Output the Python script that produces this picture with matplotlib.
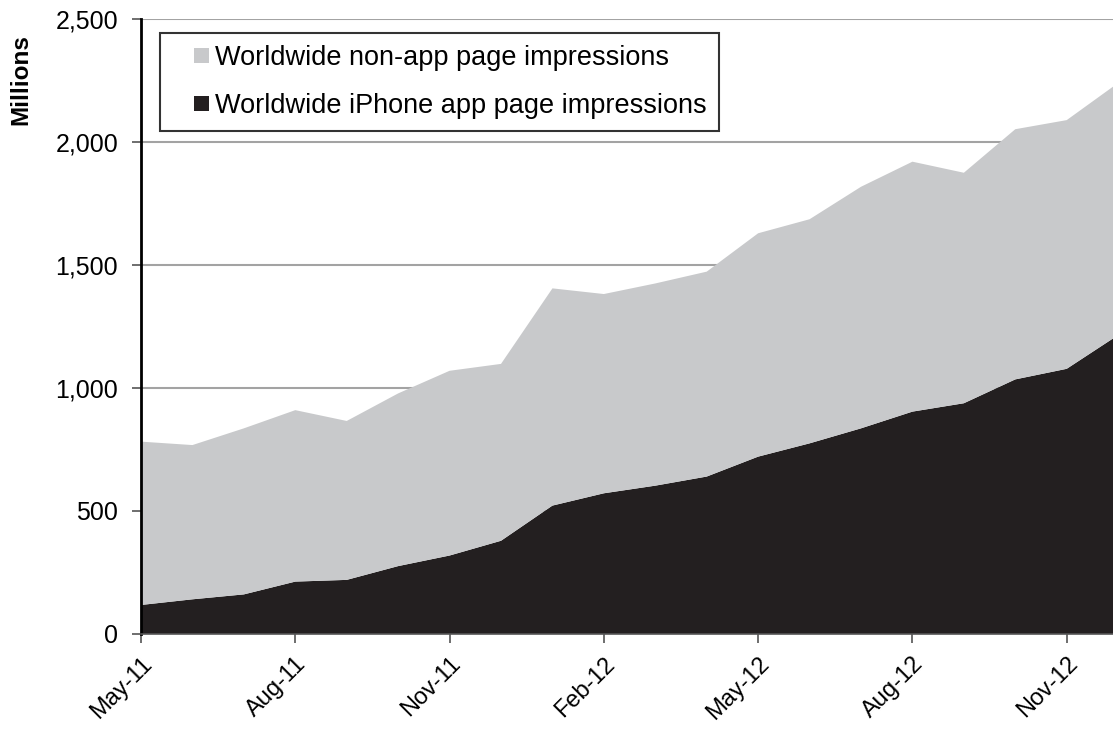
import numpy as np
import matplotlib
matplotlib.use("Agg")
import matplotlib.pyplot as plt
from matplotlib.patches import Patch, Rectangle
from matplotlib.legend_handler import HandlerPatch
from matplotlib.ticker import FuncFormatter

plt.rcParams['font.family'] = ['Liberation Sans', 'DejaVu Sans']

# monthly data, May-11 .. Dec-12 (millions)
months = ['May-11', 'Jun-11', 'Jul-11', 'Aug-11', 'Sep-11', 'Oct-11', 'Nov-11',
          'Dec-11', 'Jan-12', 'Feb-12', 'Mar-12', 'Apr-12', 'May-12', 'Jun-12',
          'Jul-12', 'Aug-12', 'Sep-12', 'Oct-12', 'Nov-12', 'Dec-12']
iphone_app = [118, 141, 161, 213, 220, 276, 319, 379, 522, 572,
              603, 640, 721, 775, 836, 904, 938, 1035, 1078, 1215]
total = [782, 768, 836, 910, 866, 978, 1070, 1098, 1405, 1382,
         1425, 1473, 1629, 1686, 1818, 1920, 1875, 2052, 2089, 2240]
non_app = [t - a for t, a in zip(total, iphone_app)]

tick_months = ['May-11', 'Aug-11', 'Nov-11', 'Feb-12', 'May-12', 'Aug-12', 'Nov-12']

light = '#c8c9cb'
dark = '#231f20'


# small square marker sitting at the right end of the legend handle box
def square(legend, orig_handle, xdescent, ydescent, width, height, fontsize):
    s = 0.55 * fontsize
    return Rectangle((-xdescent + width - s, -ydescent + (height - s) / 2), s, s)


fig = plt.figure(figsize=(11.13, 7.31), dpi=100)
ax = fig.add_axes([0.1267, 0.1327, 0.8733, 0.8413])

x = np.arange(len(months))
ax.stackplot(x, iphone_app, non_app, colors=[dark, light], linewidth=0, zorder=2)

ax.set_ylim(0, 2500)
ax.set_yticks(range(0, 2501, 500))
ax.yaxis.set_major_formatter(FuncFormatter(lambda v, p: f'{int(v):,}'))
ax.grid(axis='y', color='#a3a3a3', linewidth=1.5, zorder=1)
ax.set_axisbelow(True)

ax.set_xlim(0, 18.9)
ticks = [months.index(m) for m in tick_months]
ax.set_xticks(ticks)
ax.set_xticklabels(tick_months, rotation=45, ha='right', rotation_mode='anchor')

for s in ['top', 'right']:
    ax.spines[s].set_visible(False)
ax.spines['left'].set_color('black')
ax.spines['left'].set_linewidth(2)
ax.spines['bottom'].set_color('#555555')
ax.spines['bottom'].set_linewidth(1.2)
ax.tick_params(axis='both', length=6.5, width=1.2, color='#555555')
ax.tick_params(axis='y', labelsize=18, pad=10)
ax.tick_params(axis='x', labelsize=17, pad=7)

ax.set_ylabel('Millions', fontsize=17.5, fontweight='bold')
ax.yaxis.set_label_coords(-0.112, 0.902)

handles = [Patch(facecolor=light, edgecolor='none', label='Worldwide non-app page impressions'),
           Patch(facecolor=dark, edgecolor='none', label='Worldwide iPhone app page impressions')]
leg = ax.legend(handles=handles, loc='upper left', bbox_to_anchor=(0.0195, 0.977),
                fontsize=19.5, frameon=True, fancybox=False, handlelength=1.35,
                handleheight=0.7, handletextpad=0.25, borderpad=0.45,
                labelspacing=0.8, borderaxespad=0,
                handler_map={Patch: HandlerPatch(patch_func=square)})
leg.get_frame().set_edgecolor('black')
leg.get_frame().set_linewidth(1.5)

fig.savefig('out.png', dpi=100)
